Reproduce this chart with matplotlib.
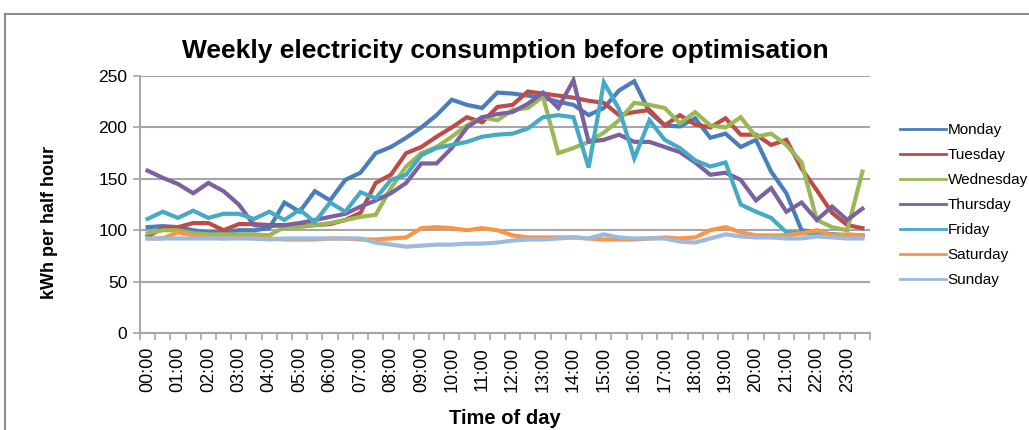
import numpy as np
import matplotlib.pyplot as plt
from matplotlib.lines import Line2D

plt.rcParams['font.family'] = ['Liberation Sans', 'DejaVu Sans']

# half-hour slots, 00:00 .. 23:30
times = ['%02d:%02d' % (h, m) for h in range(24) for m in (0, 30)]

monday = [103, 104, 103, 100, 98, 98, 100, 100, 102, 127, 118, 138, 129, 149, 156, 175,
          181, 190, 200, 212, 227, 222, 219, 234, 233, 231, 229, 225, 222, 212, 219, 236,
          245, 215, 202, 201, 209, 190, 194, 181, 188, 157, 136, 100, 98, 96, 95, 95]
tuesday = [94, 102, 103, 107, 107, 100, 106, 106, 105, 105, 104, 105, 106, 110, 117, 146,
           154, 175, 181, 191, 200, 210, 205, 220, 222, 235, 233, 231, 229, 226, 224, 212,
           215, 217, 202, 212, 203, 200, 209, 193, 193, 183, 188, 160, 139, 117, 105, 102]
wednesday = [97, 100, 100, 97, 96, 96, 96, 96, 95, 103, 103, 105, 107, 110, 113, 115,
             141, 162, 175, 181, 191, 202, 210, 207, 217, 219, 230, 175, 180, 186, 195, 207,
             224, 222, 219, 204, 215, 202, 200, 210, 191, 194, 183, 166, 110, 103, 100, 157]
thursday = [158, 151, 145, 136, 146, 138, 125, 105, 104, 105, 107, 110, 113, 116, 123, 129,
            136, 146, 165, 165, 180, 200, 210, 213, 215, 223, 234, 219, 246, 186, 188, 193,
            186, 186, 181, 176, 166, 154, 156, 149, 129, 141, 118, 127, 110, 123, 110, 121]
friday = [111, 118, 112, 119, 112, 116, 116, 111, 118, 110, 120, 108, 127, 118, 137, 131,
          149, 154, 173, 180, 183, 186, 191, 193, 194, 199, 210, 212, 210, 161, 244, 218,
          170, 207, 188, 180, 168, 162, 166, 125, 118, 112, 98, 97, 97, 96, 95, 95]
saturday = [92, 92, 98, 95, 93, 92, 93, 92, 92, 91, 91, 91, 92, 92, 91, 91,
            92, 93, 102, 103, 102, 100, 102, 100, 95, 93, 93, 93, 93, 92, 91, 91,
            91, 92, 93, 92, 93, 100, 103, 98, 95, 95, 95, 97, 100, 95, 96, 95]
sunday = [92, 92, 92, 92, 92, 92, 92, 92, 91, 92, 92, 92, 92, 92, 92, 88,
          86, 84, 85, 86, 86, 87, 87, 88, 90, 91, 91, 92, 93, 92, 96, 93,
          92, 92, 92, 89, 88, 92, 96, 94, 93, 93, 92, 92, 94, 93, 92, 92]

days = ['Monday', 'Tuesday', 'Wednesday', 'Thursday', 'Friday', 'Saturday', 'Sunday']
series = [monday, tuesday, wednesday, thursday, friday, saturday, sunday]
colors = ['#4A7EBB', '#BE4B48', '#98B954', '#7D60A0', '#46AAC5', '#F79646', '#9DB9DE']

fig = plt.figure(figsize=(10.29, 4.3), dpi=100)
ax = fig.add_axes([0.136, 0.2256, 0.7095, 0.5974])

x = np.arange(len(times))
for name, vals, c in zip(days, series, colors):
    ax.plot(x, vals, color=c, lw=3, label=name, solid_joinstyle='miter')

ax.set_xlim(-0.5, len(times) - 0.5)
ax.set_ylim(0, 250)
ax.set_yticks(np.arange(0, 251, 50))
ax.yaxis.grid(True, color='#A6A6A6', lw=1.5)
ax.set_axisbelow(True)

ax.set_xticks(x[::2])
ax.set_xticklabels(times[::2], rotation=90, fontsize=13)
ax.set_xticks(np.arange(-0.5, len(times)), minor=True)
ax.tick_params(axis='x', which='major', length=0, pad=10)
ax.tick_params(axis='x', which='minor', length=5, width=1.2, color='#A6A6A6')
ax.tick_params(axis='y', length=5, width=1.2, color='#A6A6A6', labelsize=12.5, pad=4)

for s in ['top', 'right']:
    ax.spines[s].set_visible(False)
for s in ['left', 'bottom']:
    ax.spines[s].set_color('#A6A6A6')
    ax.spines[s].set_linewidth(1.5)

ax.set_title('Weekly electricity consumption before optimisation',
             fontsize=19, fontweight='bold', pad=13)
ax.set_xlabel('Time of day', fontsize=14.5, fontweight='bold', labelpad=12)
ax.set_ylabel('kWh per half hour', fontsize=13, fontweight='bold')
ax.yaxis.set_label_coords(-0.112, 0.43)

fig.legend(loc='upper left', bbox_to_anchor=(0.861, 0.745), frameon=False,
           fontsize=11, handlelength=3.0, handletextpad=0.15, labelspacing=0.72)
for h in fig.legends[0].get_lines():
    h.set_linewidth(2)

# chart area border
fig.add_artist(Line2D([5 / 1029, 5 / 1029], [0, 1 - 14 / 430], color='#8C8C8C', lw=1.5))
fig.add_artist(Line2D([5 / 1029, 1], [1 - 14 / 430, 1 - 14 / 430], color='#8C8C8C', lw=1.5))

fig.savefig('out.png', dpi=100)
